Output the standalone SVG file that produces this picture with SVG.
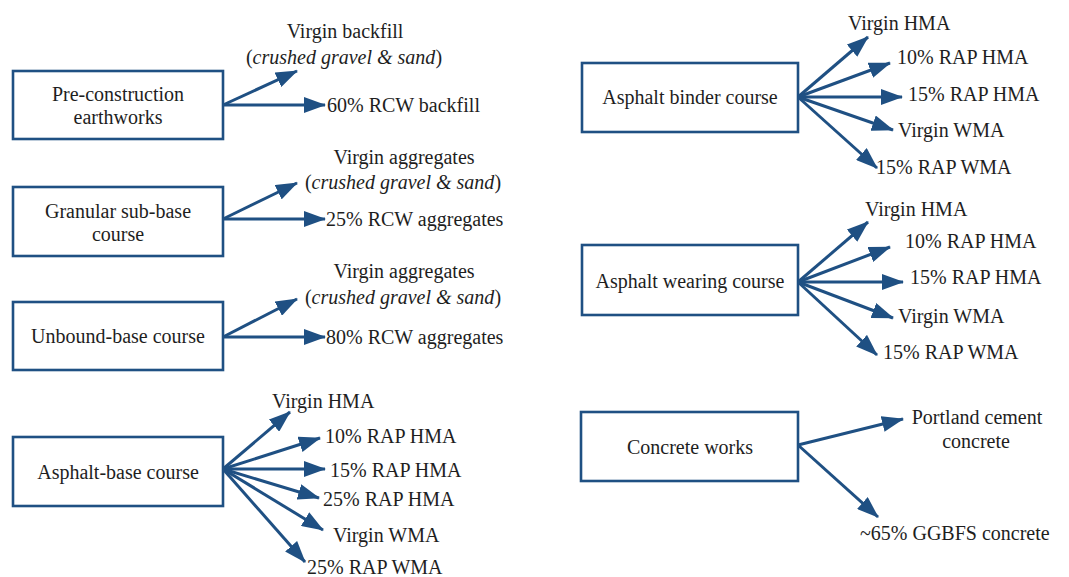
<svg xmlns="http://www.w3.org/2000/svg" width="1069" height="577" viewBox="0 0 1069 577" font-family="'Liberation Serif', 'DejaVu Serif', serif">
  <defs>
    <marker id="arrow" viewBox="0 0 22 16" refX="21" refY="8" markerWidth="22" markerHeight="16" markerUnits="userSpaceOnUse" orient="auto">
      <path d="M0,0 L22,8 L0,16 Z" fill="#1f5083"/>
    </marker>
    <style>
      .box { fill: #ffffff; stroke: #1f5083; stroke-width: 2.6; }
      .lbl { font-family: 'Liberation Serif', 'DejaVu Serif', serif; font-size: 20px; fill: #1e1e1e; }
      .mid { text-anchor: middle; }
      .edge { stroke: #1f5083; stroke-width: 3; fill: none; marker-end: url(#arrow); }
    </style>
  </defs>
  <rect width="1069" height="577" fill="#ffffff"/>

  <!-- process nodes -->
  <g id="pre-construction">
    <rect class="box" x="13" y="71" width="210" height="68"/>
    <text class="lbl mid" x="118" y="101">Pre-construction</text>
    <text class="lbl mid" x="118" y="124">earthworks</text>
  </g>
  <g id="granular-sub-base">
    <rect class="box" x="13" y="187" width="210" height="69"/>
    <text class="lbl mid" x="118" y="218">Granular sub-base</text>
    <text class="lbl mid" x="118" y="241">course</text>
  </g>
  <g id="unbound-base">
    <rect class="box" x="13" y="302" width="210" height="68"/>
    <text class="lbl mid" x="118" y="343">Unbound-base course</text>
  </g>
  <g id="asphalt-base">
    <rect class="box" x="13" y="437" width="210" height="69"/>
    <text class="lbl mid" x="118" y="479">Asphalt-base course</text>
  </g>
  <g id="asphalt-binder">
    <rect class="box" x="582" y="63" width="216" height="69"/>
    <text class="lbl mid" x="690" y="104">Asphalt binder course</text>
  </g>
  <g id="asphalt-wearing">
    <rect class="box" x="582" y="245" width="216" height="70"/>
    <text class="lbl mid" x="690" y="288">Asphalt wearing course</text>
  </g>
  <g id="concrete-works">
    <rect class="box" x="581" y="412" width="217" height="69"/>
    <text class="lbl mid" x="690" y="454">Concrete works</text>
  </g>

  <!-- material option labels -->
  <g id="options">
    <text class="lbl mid" x="345" y="38">Virgin backfill</text>
    <text class="lbl mid" x="344" y="64">(<tspan font-style="italic">crushed gravel &amp; sand</tspan>)</text>
    <text class="lbl" x="327" y="112">60% RCW backfill</text>

    <text class="lbl mid" x="404" y="164">Virgin aggregates</text>
    <text class="lbl mid" x="403" y="189">(<tspan font-style="italic">crushed gravel &amp; sand</tspan>)</text>
    <text class="lbl" x="326" y="226">25% RCW aggregates</text>

    <text class="lbl mid" x="404" y="278">Virgin aggregates</text>
    <text class="lbl mid" x="403" y="304">(<tspan font-style="italic">crushed gravel &amp; sand</tspan>)</text>
    <text class="lbl" x="326" y="344">80% RCW aggregates</text>

    <text class="lbl" x="272" y="408">Virgin HMA</text>
    <text class="lbl" x="325" y="443">10% RAP HMA</text>
    <text class="lbl" x="330" y="477">15% RAP HMA</text>
    <text class="lbl" x="323" y="506">25% RAP HMA</text>
    <text class="lbl" x="333" y="542">Virgin WMA</text>
    <text class="lbl" x="307" y="574">25% RAP WMA</text>

    <text class="lbl" x="848" y="30">Virgin HMA</text>
    <text class="lbl" x="897" y="64">10% RAP HMA</text>
    <text class="lbl" x="908" y="101">15% RAP HMA</text>
    <text class="lbl" x="898" y="137">Virgin WMA</text>
    <text class="lbl" x="876" y="174">15% RAP WMA</text>

    <text class="lbl" x="865" y="216">Virgin HMA</text>
    <text class="lbl" x="905" y="248">10% RAP HMA</text>
    <text class="lbl" x="910" y="284">15% RAP HMA</text>
    <text class="lbl" x="898" y="323">Virgin WMA</text>
    <text class="lbl" x="883" y="359">15% RAP WMA</text>

    <text class="lbl mid" x="977" y="424">Portland cement</text>
    <text class="lbl mid" x="976" y="448">concrete</text>
    <text class="lbl" x="860" y="540">~65% GGBFS concrete</text>
  </g>

  <!-- connectors -->
  <g id="connectors">
    <line class="edge" x1="223" y1="105" x2="297" y2="71"/>
    <line class="edge" x1="223" y1="105" x2="325" y2="105"/>

    <line class="edge" x1="223" y1="219" x2="297" y2="183"/>
    <line class="edge" x1="223" y1="219" x2="325" y2="219"/>

    <line class="edge" x1="223" y1="337" x2="297" y2="299"/>
    <line class="edge" x1="223" y1="337" x2="325" y2="337"/>

    <line class="edge" x1="223" y1="469" x2="290" y2="412"/>
    <line class="edge" x1="223" y1="469" x2="320" y2="438"/>
    <line class="edge" x1="223" y1="469" x2="325" y2="469"/>
    <line class="edge" x1="223" y1="469" x2="319" y2="498"/>
    <line class="edge" x1="223" y1="469" x2="323" y2="530"/>
    <line class="edge" x1="223" y1="469" x2="305" y2="562"/>

    <line class="edge" x1="798" y1="97" x2="868" y2="37"/>
    <line class="edge" x1="798" y1="97" x2="890" y2="63"/>
    <line class="edge" x1="798" y1="97" x2="902" y2="97"/>
    <line class="edge" x1="798" y1="97" x2="893" y2="130"/>
    <line class="edge" x1="798" y1="97" x2="877" y2="168"/>

    <line class="edge" x1="798" y1="282" x2="868" y2="222"/>
    <line class="edge" x1="798" y1="282" x2="890" y2="247"/>
    <line class="edge" x1="798" y1="282" x2="903" y2="282"/>
    <line class="edge" x1="798" y1="282" x2="893" y2="318"/>
    <line class="edge" x1="798" y1="282" x2="877" y2="355"/>

    <line class="edge" x1="798" y1="445" x2="903" y2="419"/>
    <line class="edge" x1="798" y1="445" x2="878" y2="517"/>
  </g>
</svg>
